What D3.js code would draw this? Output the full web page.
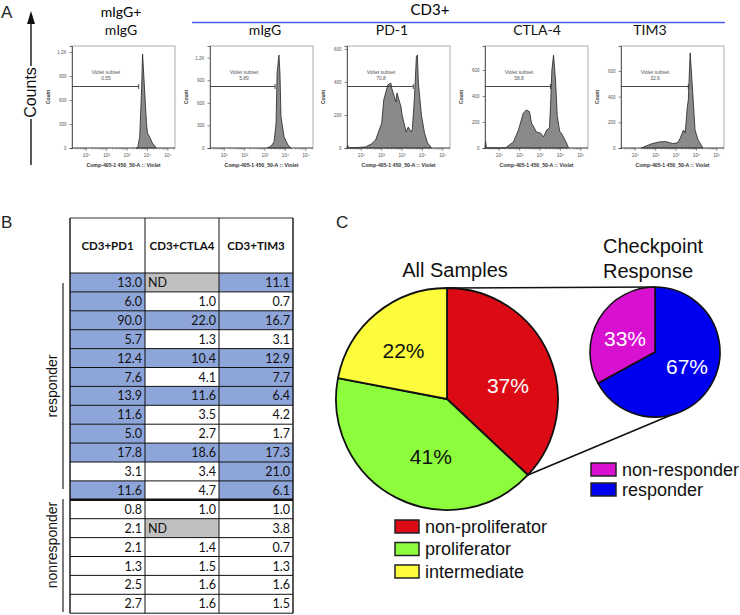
<!DOCTYPE html>
<html><head><meta charset="utf-8">
<script src="https://cdn.jsdelivr.net/npm/d3@7"></script>
<style>body{margin:0;background:#fff}svg{display:block}</style>
</head><body>
<script>
// ================= DATA =================
// Panel A: flow cytometry histograms (x = log10 fluorescence, y = counts)
const histTitles = ["mIgG", "mIgG", "PD-1", "CTLA-4", "TIM3"];
const gateLabel = "Violet subset";
const gateValues = ["0.55", "5.89", "70.8", "58.8", "32.6"];
const gateEnds = [3.57, 3.49, 3.55, 3.51, 3.6];
const yMaxes = [1275, 1354, 618, 785, 794];
const yTickValues = [[0, 300, 600, 900, 1200], [0, 300, 600, 900, 1200], [0, 200, 400, 600], [0, 200, 400, 600], [0, 200, 400, 600]];
const xTickExps = [1, 2, 3, 4, 5];
const xAxisLabel = "Comp-405-1 450_50-A :: Violet";
const yAxisLabel = "Count";

const histIsotypeAll = [[3.45,0],[3.52,0],[3.62,141],[3.71,725],[3.76,1175],[3.86,725],[3.95,312],[4.0,187],[4.1,141],[4.24,62],[4.43,0]];
const histIsotypeCD3 = [[3.1,0],[3.24,17],[3.34,40],[3.44,84],[3.54,332],[3.59,995],[3.68,1234],[3.73,995],[3.78,416],[3.93,150],[4.12,40],[4.27,0]];
const histPD1 = [[0.3,0],[0.33,18],[0.38,0],[1.2,6],[1.5,25],[1.7,48],[2.0,150],[2.1,290],[2.3,382],[2.45,394],[2.5,360],[2.7,279],[2.75,333],[2.95,248],[3.0,200],[3.2,97],[3.3,127],[3.45,97],[3.5,110],[3.6,290],[3.7,550],[3.75,564],[3.8,394],[3.95,200],[4.1,91],[4.25,30],[4.45,0]];
const histCTLA4 = [[0.3,0],[0.33,50],[0.37,0],[1.3,0],[1.69,46],[1.94,138],[2.18,270],[2.33,292],[2.48,280],[2.58,192],[2.72,154],[2.82,123],[3.02,115],[3.17,85],[3.32,138],[3.46,154],[3.51,318],[3.58,600],[3.66,715],[3.76,523],[3.84,250],[3.96,130],[4.06,110],[4.26,50],[4.4,0]];
const histTIM3 = [[1.29,0],[1.77,31],[2.15,47],[2.49,50],[2.83,35],[3.07,40],[3.21,78],[3.36,140],[3.45,117],[3.55,319],[3.6,374],[3.69,740],[3.79,500],[3.84,374],[3.93,140],[4.08,62],[4.32,0]];
const histSeries = [histIsotypeAll, histIsotypeCD3, histPD1, histCTLA4, histTIM3];

// Panel B: table
const tableHeaders = ["CD3+PD1", "CD3+CTLA4", "CD3+TIM3"];
const pd1Values   = [13.0, 6.0, 90.0, 5.7, 12.4, 7.6, 13.9, 11.6, 5.0, 17.8, 3.1, 11.6, 0.8, 2.1, 2.1, 1.3, 2.5, 2.7];
const ctla4Values = [null, 1.0, 22.0, 1.3, 10.4, 4.1, 11.6, 3.5, 2.7, 18.6, 3.4, 4.7, 1.0, null, 1.4, 1.5, 1.6, 1.6];
const tim3Values  = [11.1, 0.7, 16.7, 3.1, 12.9, 7.7, 6.4, 4.2, 1.7, 17.3, 21.0, 6.1, 1.0, 3.8, 0.7, 1.3, 1.6, 1.5];
const groupNames = ["responder", "nonresponder"];
const groupSizes = [12, 6];
const highlightThreshold = 5.0;
const ndLabel = "ND";

// Panel C: pies
const allSampleCats = ["non-proliferator", "proliferator", "intermediate"];
const allSampleValues = [37, 41, 22];
const responseCats = ["responder", "non-responder"];
const responseValues = [67, 33];
const responseLegendOrder = ["non-responder", "responder"];

// ================= DRAW =================
const svg = d3.select("body").append("svg").attr("width", 740).attr("height", 615);
const SANS = "'Liberation Sans', Arial, sans-serif";
const CAL = "Lato, 'Open Sans', sans-serif";

function panelLetter(t, x, y) {
  svg.append("text").attr("x", x).attr("y", y).text(t)
    .attr("font-family", SANS).attr("font-size", 17).attr("fill", "#222");
}
panelLetter("A", 1, 18);
panelLetter("B", 1, 228);
panelLetter("C", 336, 228);

// ---- Panel A ----
const ax = 31;
svg.append("line").attr("x1", ax).attr("x2", ax).attr("y1", 22).attr("y2", 66).attr("stroke", "#111").attr("stroke-width", 1.4);
svg.append("line").attr("x1", ax).attr("x2", ax).attr("y1", 119).attr("y2", 165).attr("stroke", "#111").attr("stroke-width", 1.4);
svg.append("path").attr("d", `M${ax},11 L${ax-4},24 L${ax+4},24 Z`).attr("fill", "#111");
svg.append("text").attr("transform", `translate(36,92.5) rotate(-90)`).attr("text-anchor", "middle")
  .attr("font-family", SANS).attr("font-size", 16).attr("fill", "#111").text("Counts");

svg.append("text").attr("x", 121).attr("y", 17).attr("text-anchor", "middle").attr("font-family", CAL).attr("font-size", 14).text("mIgG+");
svg.append("text").attr("x", 430).attr("y", 15).attr("text-anchor", "middle").attr("font-family", CAL).attr("font-size", 15).text("CD3+");
svg.append("line").attr("x1", 192).attr("x2", 725).attr("y1", 22.5).attr("y2", 22.5).attr("stroke", "#4a5cf0").attr("stroke-width", 1.5);

const frameLefts = [72, 210, 347, 485, 621];
const titleCenters = [121, 265, 392, 537, 650];
const frameW = 103, frameTop = 46, frameBottom = 148;
const xDomain = [0.3, 5.35];
const supers = {1:"\u00b9",2:"\u00b2",3:"\u00b3",4:"\u2074",5:"\u2075"};

histSeries.forEach((data, i) => {
  const L = frameLefts[i];
  const g = svg.append("g");
  const x = d3.scaleLinear().domain(xDomain).range([L, L + frameW]);
  const y = d3.scaleLinear().domain([0, yMaxes[i]]).range([frameBottom, frameTop]);

  g.append("text").attr("x", titleCenters[i]).attr("y", 35).attr("text-anchor", "middle")
    .attr("font-family", CAL).attr("font-size", 14).attr("fill", "#111").text(histTitles[i]);

  g.append("rect").attr("x", L).attr("y", frameTop).attr("width", frameW).attr("height", frameBottom - frameTop)
    .attr("fill", "none").attr("stroke", "#9a9a9a").attr("stroke-width", 0.8);

  const area = d3.area().x(d => x(d[0])).y0(frameBottom).y1(d => y(d[1])).curve(d3.curveLinear);
  g.append("path").datum(data).attr("d", area).attr("fill", "#8a8a8a").attr("stroke", "#222").attr("stroke-width", 0.8);

  const yAxis = d3.axisLeft(y).tickValues(yTickValues[i]).tickSize(2.5).tickPadding(3)
    .tickFormat(v => v >= 1000 ? (v / 1000) + "K" : v);
  const ya = g.append("g").attr("transform", `translate(${L},0)`).call(yAxis);
  ya.select(".domain").attr("stroke", "#444").attr("stroke-width", 0.8);
  ya.selectAll(".tick line").attr("stroke", "#444").attr("stroke-width", 0.6);
  ya.selectAll("text").attr("font-size", 4.5).attr("font-family", SANS).attr("fill", "#555");

  const minor = [];
  for (let e = 0; e <= 5; e++) for (let k = 2; k <= 9; k++) {
    const v = e + Math.log10(k);
    if (v > xDomain[0] && v < xDomain[1]) minor.push(v);
  }
  const xa = g.append("g").attr("transform", `translate(0,${frameBottom})`);
  xa.append("line").attr("x1", L).attr("x2", L + frameW).attr("stroke", "#444").attr("stroke-width", 0.8);
  xa.selectAll(".mn").data(minor).join("line").attr("x1", d => x(d)).attr("x2", d => x(d))
    .attr("y1", 0).attr("y2", 1.5).attr("stroke", "#555").attr("stroke-width", 0.5);
  xa.selectAll(".mj").data(xTickExps).join("line").attr("x1", d => x(d)).attr("x2", d => x(d))
    .attr("y1", 0).attr("y2", 2.8).attr("stroke", "#444").attr("stroke-width", 0.6);
  xa.selectAll(".lb").data(xTickExps).join("text").attr("x", d => x(d)).attr("y", 9)
    .attr("text-anchor", "middle").attr("font-family", SANS).attr("font-size", 4.8).attr("fill", "#555")
    .text(d => "10" + supers[d]);

  g.append("text").attr("x", L + frameW / 2).attr("y", 167).attr("text-anchor", "middle")
    .attr("font-family", SANS).attr("font-size", 5.2).attr("font-weight", "bold").attr("fill", "#333").text(xAxisLabel);
  g.append("text").attr("transform", `translate(${L - 22},${(frameTop + frameBottom) / 2}) rotate(-90)`)
    .attr("text-anchor", "middle").attr("font-family", SANS).attr("font-size", 5).attr("font-weight", "bold").attr("fill", "#333").text(yAxisLabel);

  const gy = 86.5, gx1 = L, gx2 = x(gateEnds[i]);
  g.append("line").attr("x1", gx1).attr("x2", gx2).attr("y1", gy).attr("y2", gy).attr("stroke", "#333").attr("stroke-width", 0.9);
  g.append("line").attr("x1", gx2).attr("x2", gx2).attr("y1", gy - 2.5).attr("y2", gy + 2.5).attr("stroke", "#333").attr("stroke-width", 0.9);
  const tx = L + 34;
  g.append("text").attr("x", tx).attr("y", 74).attr("text-anchor", "middle").attr("font-family", SANS)
    .attr("font-size", 5).attr("fill", "#555").text(gateLabel);
  g.append("text").attr("x", tx).attr("y", 80).attr("text-anchor", "middle").attr("font-family", SANS)
    .attr("font-size", 5).attr("fill", "#555").text(gateValues[i]);
});

// ---- Panel B: table ----
const colX = [70, 145, 219, 293];
const headTop = 218, headH = 55, rowH = 18.9;
const nRows = pd1Values.length;
const cols = [pd1Values, ctla4Values, tim3Values];
const tg = svg.append("g");
const rowY = r => headTop + headH + r * rowH;

cols.forEach((vals, c) => {
  vals.forEach((v, r) => {
    const fill = v === null ? "#c0c0c0" : (v >= highlightThreshold ? "#8ea5d9" : "#ffffff");
    tg.append("rect").attr("x", colX[c]).attr("y", rowY(r)).attr("width", colX[c + 1] - colX[c]).attr("height", rowH).attr("fill", fill);
    if (v === null) {
      tg.append("text").attr("x", colX[c] + 3).attr("y", rowY(r) + 14).attr("font-family", CAL).attr("font-size", 12.5).attr("fill", "#111").text(ndLabel);
    } else {
      tg.append("text").attr("x", colX[c + 1] - 3).attr("y", rowY(r) + 14).attr("text-anchor", "end")
        .attr("font-family", CAL).attr("font-size", 12.5).attr("fill", "#111").text(v.toFixed(1));
    }
  });
  tg.append("text").attr("x", (colX[c] + colX[c + 1]) / 2).attr("y", headTop + headH / 2 + 4).attr("text-anchor", "middle")
    .attr("font-family", CAL).attr("font-weight", "bold").attr("font-size", 11.5).attr("fill", "#111").text(tableHeaders[c]);
});
for (let r = 0; r <= nRows; r++) {
  const yy = rowY(r);
  const thick = r === groupSizes[0];
  tg.append("line").attr("x1", colX[0]).attr("x2", colX[3]).attr("y1", yy).attr("y2", yy)
    .attr("stroke", "#111").attr("stroke-width", thick ? 2.6 : 1);
}
tg.append("line").attr("x1", colX[0]).attr("x2", colX[3]).attr("y1", headTop).attr("y2", headTop).attr("stroke", "#333").attr("stroke-width", 1.2);
colX.forEach((cx, i) => {
  tg.append("line").attr("x1", cx).attr("x2", cx).attr("y1", headTop).attr("y2", rowY(nRows))
    .attr("stroke", "#111").attr("stroke-width", (i === 0 || i === 3) ? 1.4 : 1);
});
const brX = 63;
const brackets = [[283, 489, 386], [499, 612, 545]];
groupNames.forEach((name, i) => {
  const [y1, y2, yc] = brackets[i];
  tg.append("line").attr("x1", brX).attr("x2", brX).attr("y1", y1).attr("y2", y2).attr("stroke", "#444").attr("stroke-width", 1.4);
  tg.append("text").attr("transform", `translate(57,${yc}) rotate(-90)`).attr("text-anchor", "middle")
    .attr("font-family", SANS).attr("font-size", 14).attr("fill", "#111").text(name);
});

// ---- Panel C: pies ----
const bigColors = d3.scaleOrdinal().domain(allSampleCats).range(["#dc0a14", "#8cfc3c", "#fcfc3c"]);
const smallColors = d3.scaleOrdinal().domain(["responder", "non-responder"]).range(["#0000f0", "#d810d0"]);
const bigC = [447, 399], bigR = 111;
const smC = [655, 352], smR = 65;

const pie = d3.pie().sort(null).value(d => d.v);
const bigArcs = pie(allSampleCats.map((c, i) => ({c, v: allSampleValues[i]})));
const smArcs = pie(responseCats.map((c, i) => ({c, v: responseValues[i]})));

const redEnd = bigArcs[0].endAngle;
const pt = (c, r, a) => [c[0] + r * Math.sin(a), c[1] - r * Math.cos(a)];
const bottomA = pt(bigC, bigR, redEnd);
const bottomB = pt(smC, smR, 165 * Math.PI / 180);
svg.append("line").attr("x1", bigC[0]).attr("y1", bigC[1] - bigR).attr("x2", smC[0]).attr("y2", smC[1] - smR).attr("stroke", "#111").attr("stroke-width", 1.6);
svg.append("line").attr("x1", bottomA[0]).attr("y1", bottomA[1]).attr("x2", bottomB[0]).attr("y2", bottomB[1]).attr("stroke", "#111").attr("stroke-width", 1.6);

const bigArc = d3.arc().innerRadius(0).outerRadius(bigR);
const bigLabelArc = d3.arc().innerRadius(62).outerRadius(62);
const bg = svg.append("g").attr("transform", `translate(${bigC})`);
bg.selectAll("path").data(bigArcs).join("path").attr("d", bigArc).attr("fill", d => bigColors(d.data.c))
  .attr("stroke", "#111").attr("stroke-width", 1.8).attr("stroke-linejoin", "round");
const bigLabelShift = [[4, 11], [12, 2], [-4, -1]];
const bigLabelColor = ["#fff", "#111", "#111"];
bg.selectAll("text").data(bigArcs).join("text")
  .attr("x", (d, i) => bigLabelArc.centroid(d)[0] + bigLabelShift[i][0])
  .attr("y", (d, i) => bigLabelArc.centroid(d)[1] + bigLabelShift[i][1])
  .attr("dy", "0.35em").attr("text-anchor", "middle").attr("font-family", SANS).attr("font-size", 21)
  .attr("fill", (d, i) => bigLabelColor[i]).text(d => d.data.v + "%");

const smArc = d3.arc().innerRadius(0).outerRadius(smR);
const smLabelArc = d3.arc().innerRadius(36).outerRadius(36);
const sg = svg.append("g").attr("transform", `translate(${smC})`);
sg.selectAll("path").data(smArcs).join("path").attr("d", smArc).attr("fill", d => smallColors(d.data.c))
  .attr("stroke", "#111").attr("stroke-width", 1.6).attr("stroke-linejoin", "round");
const smLabelShift = [[1, -4], [1, 5]];
sg.selectAll("text").data(smArcs).join("text")
  .attr("x", (d, i) => smLabelArc.centroid(d)[0] + smLabelShift[i][0])
  .attr("y", (d, i) => smLabelArc.centroid(d)[1] + smLabelShift[i][1])
  .attr("dy", "0.35em").attr("text-anchor", "middle").attr("font-family", SANS).attr("font-size", 21)
  .attr("fill", "#fff").text(d => d.data.v + "%");

svg.append("text").attr("x", 455).attr("y", 277).attr("text-anchor", "middle").attr("font-family", SANS).attr("font-size", 20).attr("fill", "#111").text("All Samples");
svg.append("text").attr("x", 603).attr("y", 253).attr("font-family", SANS).attr("font-size", 20).attr("fill", "#111").text("Checkpoint");
svg.append("text").attr("x", 603).attr("y", 278).attr("font-family", SANS).attr("font-size", 20).attr("fill", "#111").text("Response");

const lg1 = svg.append("g");
allSampleCats.forEach((c, i) => {
  const yy = 520 + i * 22.5;
  lg1.append("rect").attr("x", 395).attr("y", yy).attr("width", 24).attr("height", 13).attr("fill", bigColors(c)).attr("stroke", "#222").attr("stroke-width", 1.5);
  lg1.append("text").attr("x", 425).attr("y", yy + 12.5).attr("font-family", SANS).attr("font-size", 18).attr("fill", "#111").text(c);
});
const lg2 = svg.append("g");
responseLegendOrder.forEach((c, i) => {
  const yy = 463 + i * 20;
  lg2.append("rect").attr("x", 591).attr("y", yy).attr("width", 25).attr("height", 13).attr("fill", smallColors(c)).attr("stroke", "#222").attr("stroke-width", 1.5);
  lg2.append("text").attr("x", 622).attr("y", yy + 12.5).attr("font-family", SANS).attr("font-size", 18).attr("fill", "#111").text(c);
});
</script>
</body></html>
